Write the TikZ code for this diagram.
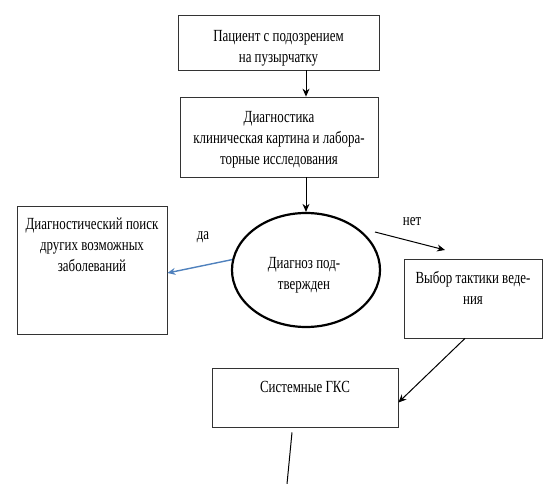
\documentclass[tikz,border=0pt]{standalone}
\usepackage{fontspec}
\setmainfont{Liberation Serif}[FakeStretch=0.76]
\usetikzlibrary{arrows.meta,shapes.geometric}
\definecolor{arrowblue}{RGB}{79,129,189}
\tikzset{
box/.style={draw=black!80,line width=0.8pt,rectangle,inner sep=0pt},
txt/.style={align=center,font=\fontsize{17}{21}\selectfont,inner sep=0pt},
arr/.style={-{Stealth[length=8pt,width=7pt]},line width=1pt}
}
\begin{document}
\begin{tikzpicture}[x=1pt,y=-1pt]
\useasboundingbox (0,0) rectangle (558,484);
\node[box,minimum width=201pt,minimum height=55pt] (patient) at (278.5,42.5) {};
\node[box,minimum width=198pt,minimum height=80pt] (diagnostics) at (279,137) {};
\node[ellipse,draw,line width=2.2pt,inner sep=0pt,minimum width=148pt,minimum height=114pt] (diag) at (306,270) {};
\node[box,minimum width=150pt,minimum height=128pt] (search) at (92,270) {};
\node[box,minimum width=138pt,minimum height=79pt] (tactic) at (473,298.5) {};
\node[box,minimum width=186pt,minimum height=59pt] (gks) at (305,397.5) {};
\node[txt] (patienttext) at (278.5,48) {Пациент с подозрением\\на пузырчатку};
\node[txt] (diagnosticstext) at (279,140) {Диагностика\\клиническая картина и лабора-\\торные исследования};
\node[txt] (diagtext) at (304,275) {Диагноз под-\\твержден};
\node[txt,anchor=north] (searchtext) at (92,218) {Диагностический поиск\\других возможных\\заболеваний};
\node[txt] (tactictext) at (473,288) {Выбор тактики веде-\\ния};
\node[txt] (gkstext) at (305,387) {Системные ГКС};
\node[txt] (yes) at (203,237) {да};
\node[txt] (no) at (412,222) {нет};
\coordinate (nostart) at (375,232);
\coordinate (noend) at (445,250);
\coordinate (gksend) at (287,484);
\draw[arr] (diag.north |- patient.south) -- (diag.north |- diagnostics.north);
\draw[arr] (diag.north |- diagnostics.south) -- (diag.north);
\draw[arr,arrowblue,line width=1.4pt] (diag.172) -- ([yshift=-3pt]search.east);
\draw[arr] (nostart) -- (noend);
\draw[arr] ([xshift=-8pt]tactic.south) -- ([yshift=-5pt]gks.east);
\draw[line width=1pt] ([xshift=-13pt,yshift=-5pt]gks.south) -- (gksend);
\end{tikzpicture}
\end{document}
